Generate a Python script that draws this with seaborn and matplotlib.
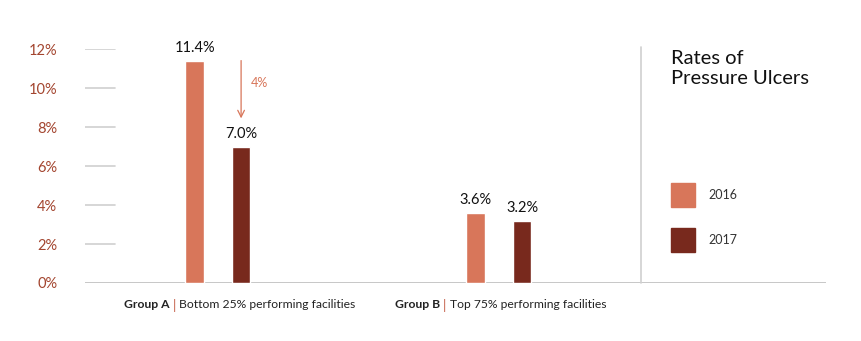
import matplotlib
matplotlib.use("Agg")
import matplotlib.pyplot as plt
import seaborn as sns
import pandas as pd

groups = ["Group A", "Group B"]
group_notes = ["Bottom 25% performing facilities", "Top 75% performing facilities"]
years = ["2016", "2017"]
rates_2016 = [11.4, 3.6]
rates_2017 = [7.0, 3.2]
drop_label = "4%"
yticks = [0, 2, 4, 6, 8, 10, 12]
title = "Rates of\nPressure Ulcers"

c2016 = "#D8765A"
c2017 = "#78291D"
tick_color = "#A3452F"
grid_color = "#CFCFCF"

sns.set_theme(style="white")
plt.rcParams["font.family"] = ["Lato", "DejaVu Sans"]

df = pd.DataFrame({
    "group": groups * 2,
    "year": [years[0]] * 2 + [years[1]] * 2,
    "rate": rates_2016 + rates_2017,
})

W, H = 861, 341
fig = plt.figure(figsize=(W / 100, H / 100), dpi=100)
ax = fig.add_axes([85 / W, (H - 283) / H, (826 - 85) / W, (283 - 49) / H])

sns.barplot(data=df, x="group", y="rate", hue="year", order=groups,
            hue_order=years, palette=[c2016, c2017], width=0.33, gap=0.6,
            errorbar=None, legend=False, ax=ax, saturation=1)

ax.set_xlim(-0.473, 2.164)
ax.set_ylim(0, 12)
for s in ax.spines.values():
    s.set_visible(False)

# short stubs for grid levels, full-width baseline
for t in yticks[1:]:
    ax.axhline(t, xmin=0, xmax=30 / 741, color=grid_color, lw=1.2, zorder=0)
ax.axhline(0, color="#BDBDBD", lw=1.2, zorder=0)

ax.set_yticks(yticks)
ax.set_yticklabels([f"{t}%" for t in yticks], color=tick_color, fontsize=10.5)
ax.tick_params(axis="y", length=0, pad=20)
ax.set_xticks([])
ax.set_xlabel("")
ax.set_ylabel("")

# value labels above each bar
bars = sorted(ax.patches, key=lambda p: p.get_x())
for p in bars:
    h = p.get_height()
    ax.annotate(f"{h:.1f}%", (p.get_x() + p.get_width() / 2, h),
                xytext=(0, 4), textcoords="offset points",
                ha="center", va="bottom", fontsize=10.5, color="#111111")

# drop arrow between the Group A bars
a17 = bars[1]
ax_x = a17.get_x() + a17.get_width() / 2
ax.annotate("", xy=(ax_x, 8.3), xytext=(ax_x, 11.55),
            arrowprops=dict(arrowstyle="->", color=c2016, lw=0.9,
                            mutation_scale=12))
ax.text(ax_x + 0.036, 10.25, drop_label, color=c2016, fontsize=9,
        ha="left", va="center")

# vertical separator before the legend panel
ax.plot([1.505, 1.505], [0.0, 12.1], color="#D0D0D0", lw=1.2,
        clip_on=False, zorder=0)

# group captions below the baseline
starts = [124, 395]
for gx, g, note in zip(starts, groups, group_notes):
    t1 = fig.text(gx / W, 1 - 305 / H, g, fontsize=8.7, fontweight="bold",
                  color="#222222", ha="left", va="center")
    fig.canvas.draw()
    bb = t1.get_window_extent()
    x2 = bb.x1 + 3
    t2 = fig.text(x2 / W, 1 - 305 / H, "|", fontsize=9.5, color="#C0523A",
                  ha="left", va="center")
    bb2 = t2.get_window_extent()
    fig.text((bb2.x1 + 3) / W, 1 - 305 / H, note, fontsize=8.7,
             color="#222222", ha="left", va="center")

# legend panel
fig.text(671 / W, 1 - 50 / H, title, fontsize=14.5, color="#111111",
         ha="left", va="top", linespacing=1.2)
for yc, col, lab in [(195, c2016, years[0]), (240, c2017, years[1])]:
    fig.patches.append(plt.Rectangle((671 / W, 1 - (yc + 12) / H), 24 / W, 24 / H,
                                     transform=fig.transFigure, color=col))
    fig.text(708 / W, 1 - yc / H, lab, fontsize=9, color="#333333",
             ha="left", va="center")

fig.savefig("out.png", dpi=100)
